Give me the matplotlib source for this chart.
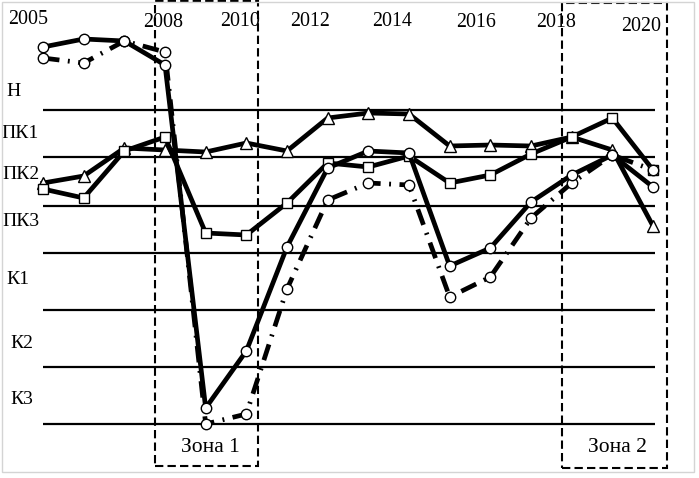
import matplotlib
matplotlib.use("Agg")
import matplotlib.pyplot as plt
from matplotlib.patches import Rectangle

plt.rcParams['font.family'] = ['Liberation Serif', 'DejaVu Serif']

# годы и уровни (шкала условных баллов)
years = list(range(2005, 2021))
year_labels = ['2005', '2008', '2010', '2012', '2014', '2016', '2018', '2020']
level_names = ['Н', 'ПК1', 'ПК2', 'ПК3', 'К1', 'К2', 'К3']
level_bounds = [31.4, 26.7, 21.8, 17.1, 11.4, 5.7, 0.0]
zone_names = ['Зона 1', 'Зона 2']

# ряды
tri = [24.1, 24.8, 27.6, 27.4, 27.2, 28.1, 27.3, 30.6, 31.1, 31.0, 27.8, 27.9, 27.8, 28.7, 27.4, 19.8]
sq = [23.5, 22.6, 27.3, 28.7, 19.1, 18.9, 22.1, 26.1, 25.7, 26.8, 24.1, 24.9, 27.0, 28.7, 30.6, 25.4]
circ = [37.7, 38.5, 38.3, 35.9, 1.6, 7.3, 17.7, 25.6, 27.3, 27.1, 15.8, 17.6, 22.2, 24.9, 26.9, 23.7]
circ_d = [36.6, 36.1, 38.3, 37.2, 0.0, 1.0, 13.5, 22.4, 24.1, 23.9, 12.7, 14.7, 20.6, 24.1, 26.9, 25.4]

W, H = 699, 478
PX_YR = 40.667


# пересчёт пикселей в координаты осей (только для разметки)
def px_x(p):
    return 2005 + (p - 43) / PX_YR


def px_y(p):
    return (424 - p) / 10.0


fig = plt.figure(figsize=(W / 100, H / 100), dpi=100)
ax = fig.add_axes([0, 0, 1, 1])
ax.set_xlim(px_x(0), px_x(W))
ax.set_ylim(px_y(H), px_y(0))
ax.axis('off')

# рамка картинки
fig.patches.append(Rectangle((2 / W, 6 / H), 692 / W, 470 / H, transform=fig.transFigure,
                             fill=False, edgecolor='#d4d4d4', lw=1))

# уровни
ax.hlines(level_bounds, px_x(43), px_x(655), color='black', lw=1.6, zorder=1)
label_px = [(14, 92), (20, 134), (21, 175), (21, 222), (18, 280), (22, 343), (22, 400)]
for name, (lx, ly) in zip(level_names, label_px):
    ax.text(px_x(lx), px_y(ly), name, fontsize=14, ha='center', va='center')

# подписи годов
year_px = [(28, 20), (163, 23), (240, 22), (310, 22), (392, 22), (476, 23), (556, 23), (641, 27)]
for lab, (lx, ly) in zip(year_labels, year_px):
    ax.text(px_x(lx), px_y(ly), lab, fontsize=14.4, ha='center', va='center')

# зоны
zone_px = [(155, 1, 258, 466), (562, 3, 667, 468)]
zone_lab = [(210, 448), (617, 447)]
for name, (x0, y0, x1, y1), (lx, ly) in zip(zone_names, zone_px, zone_lab):
    ax.add_patch(Rectangle((px_x(x0), px_y(y1)), px_x(x1) - px_x(x0), px_y(y0) - px_y(y1),
                           fill=False, edgecolor='black', lw=1.5, linestyle=(0, (4, 2)), zorder=2))
    ax.text(px_x(lx), px_y(ly), name, fontsize=15.5, ha='center', va='center')

mk = dict(color='black', lw=3.4, markerfacecolor='white', markeredgecolor='black', mew=1.0)
ax.plot(years, tri, marker='^', ms=8.5, zorder=3, **mk)
ax.plot(years, sq, marker='s', ms=7.5, zorder=4, **mk)
ax.plot(years, circ_d, marker='o', ms=7.5, dashes=(3.5, 1.8, 0.4, 1.8), zorder=5, **mk)
ax.plot(years, circ, marker='o', ms=7.5, zorder=6, **mk)

plt.savefig('out.png', dpi=100)
